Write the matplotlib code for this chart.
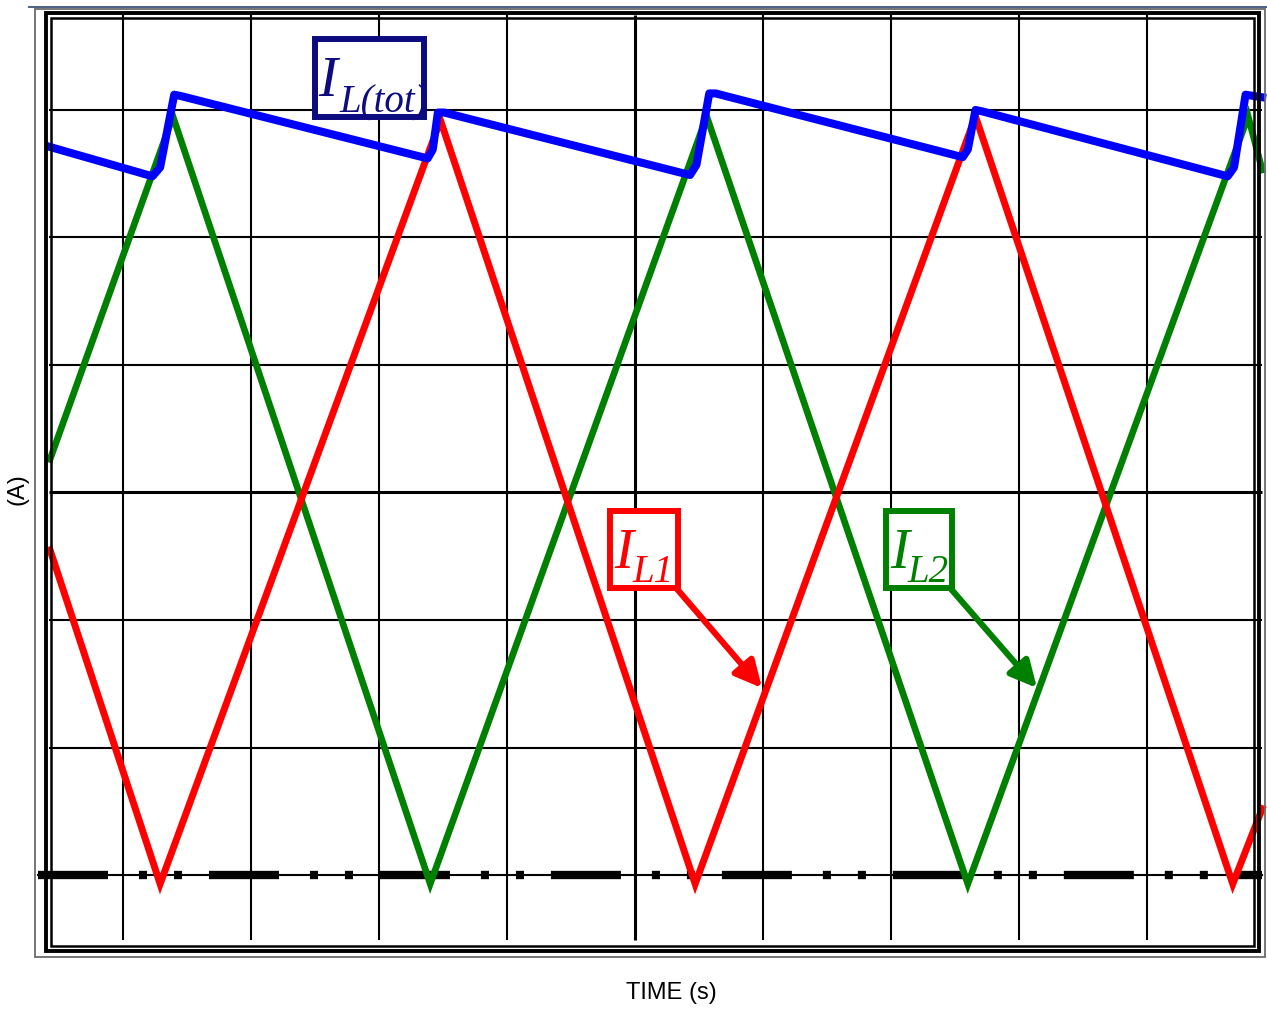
import matplotlib
matplotlib.use('Agg')
import matplotlib.pyplot as plt
from matplotlib.patches import Rectangle
from matplotlib.lines import Line2D

W, H = 1267, 1009

# scope traces, in screen divisions (x: time div, y: current div, 0 = dashed ground line)
il1_t = [-0.57, 0.29, 2.48, 4.47, 6.66, 8.67, 8.90]
il1_i = [2.55, -0.07, 5.92, -0.07, 5.95, -0.07, 0.52]

il2_t = [-0.57, 0.39, 2.40, 4.56, 6.60, 8.79, 8.90]
il2_i = [3.26, 5.95, -0.07, 5.95, -0.07, 5.95, 5.53]

iltot_t = [-0.57, 0.23, 0.29, 0.40, 0.45, 2.38, 2.42, 2.46, 2.51,
           4.43, 4.48, 4.58, 4.63, 6.56, 6.60, 6.66, 6.71,
           8.63, 8.68, 8.77, 8.90]
iltot_i = [5.71, 5.48, 5.55, 6.12, 6.11, 5.62, 5.69, 5.98, 5.98,
           5.49, 5.57, 6.13, 6.13, 5.63, 5.69, 6.00, 5.99,
           5.48, 5.55, 6.12, 6.10]

x_divs = list(range(0, 9))
y_divs = list(range(1, 7))

plt.rcParams['lines.scale_dashes'] = False


def dx(px):
    return (px - 123) / 128.0


def dy(py):
    return (875 - py) / 127.5


def fx(px):
    return px / W


def fy(py):
    return 1 - py / H


fig = plt.figure(figsize=(W / 100, H / 100), dpi=100)
ax = fig.add_axes([fx(51), fy(946), fx(1254) - fx(51), fy(18) - fy(946)])
ax.set_xlim(dx(51), dx(1254))
ax.set_ylim(dy(946), dy(18))
ax.set_axis_off()

# frames around the scope screen
fig.add_artist(Rectangle((fx(35), fy(957)), fx(1265) - fx(35), fy(9) - fy(957),
                         fill=False, ec='#6a6a6a', lw=1.3, transform=fig.transFigure))
fig.add_artist(Line2D([fx(29), fx(1267)], [fy(7), fy(7)], color='#4f5f85', lw=1.4,
                      transform=fig.transFigure))
fig.add_artist(Rectangle((fx(46), fy(951)), fx(1259) - fx(46), fy(13) - fy(951),
                         fill=False, ec='black', lw=2.8, transform=fig.transFigure))
fig.add_artist(Rectangle((fx(51), fy(946)), fx(1254) - fx(51), fy(18) - fy(946),
                         fill=False, ec='black', lw=1.8, transform=fig.transFigure))

# graticule
for x in x_divs:
    ax.vlines(x, dy(940), dy(15), color='black', lw=2.2 if x == 4 else 1.5,
              clip_on=False, zorder=1)
for y in y_divs:
    ax.hlines(y, dx(49), dx(1262), color='black', lw=2.2 if y == 3 else 1.5,
              clip_on=False, zorder=1)

# ground reference line
ax.plot([dx(38), dx(1262)], [0, 0], color='black', lw=1.5, clip_on=False, zorder=2)
ax.plot([dx(38), dx(1262)], [0, 0], color='black', lw=6,
        linestyle=(0, (50.4, 22.3, 5.8, 19.4, 5.8, 19.4)),
        solid_capstyle='butt', dash_capstyle='butt', clip_on=False, zorder=2)

# traces
ax.plot(il2_t, il2_i, color='#008000', lw=4.8, clip_on=False, zorder=3,
        solid_joinstyle='miter')
ax.plot(il1_t, il1_i, color='#ff0000', lw=5.0, clip_on=False, zorder=4,
        solid_joinstyle='miter')
ax.plot(iltot_t, iltot_i, color='#0000ff', lw=5.8, clip_on=False, zorder=5,
        solid_joinstyle='round')

# labels with boxes: (subscript, colour, box, "I" position, subscript position, arrow)
labels = [
    ('L(tot)', '#0c0c80', (315, 39, 424, 117), (318, 96), (339, 112), None),
    ('L1', '#ff0000', (610, 511, 678, 588), (614, 568), (632, 582), ((677, 589), (762, 688))),
    ('L2', '#008000', (886, 511, 952, 588), (890, 568), (907, 582), ((951, 589), (1037, 688))),
]
serif = dict(family='Liberation Serif', style='italic')
for sub, col, (x0, y0, x1, y1), (tx, ty), (sx_, sy_), arrow in labels:
    ax.add_patch(Rectangle((dx(x0), dy(y1)), dx(x1) - dx(x0), dy(y0) - dy(y1),
                           fill=True, fc='white', ec=col, lw=4.3, zorder=6,
                           joinstyle='miter'))
    ax.text(dx(tx), dy(ty), 'I', color=col, fontsize=41, ha='left', va='baseline',
            zorder=7, **serif)
    ax.text(dx(sx_), dy(sy_), sub, color=col, fontsize=28, ha='left', va='baseline',
            zorder=7, **serif)
    if arrow is not None:
        (sx, sy), (ex, ey) = arrow
        ax.annotate('', xy=(dx(ex), dy(ey)), xytext=(dx(sx), dy(sy)),
                    arrowprops=dict(arrowstyle='-|>', color=col, lw=4.4,
                                    mutation_scale=40, shrinkA=0, shrinkB=0),
                    zorder=6)

fig.text(fx(18), fy(489), '(A)', rotation=90, ha='center', va='center',
         fontsize=17, family='Liberation Sans')
fig.text(fx(671), fy(993), 'TIME (s)', ha='center', va='center',
         fontsize=17, family='Liberation Sans')

fig.savefig('out.png', dpi=100)
